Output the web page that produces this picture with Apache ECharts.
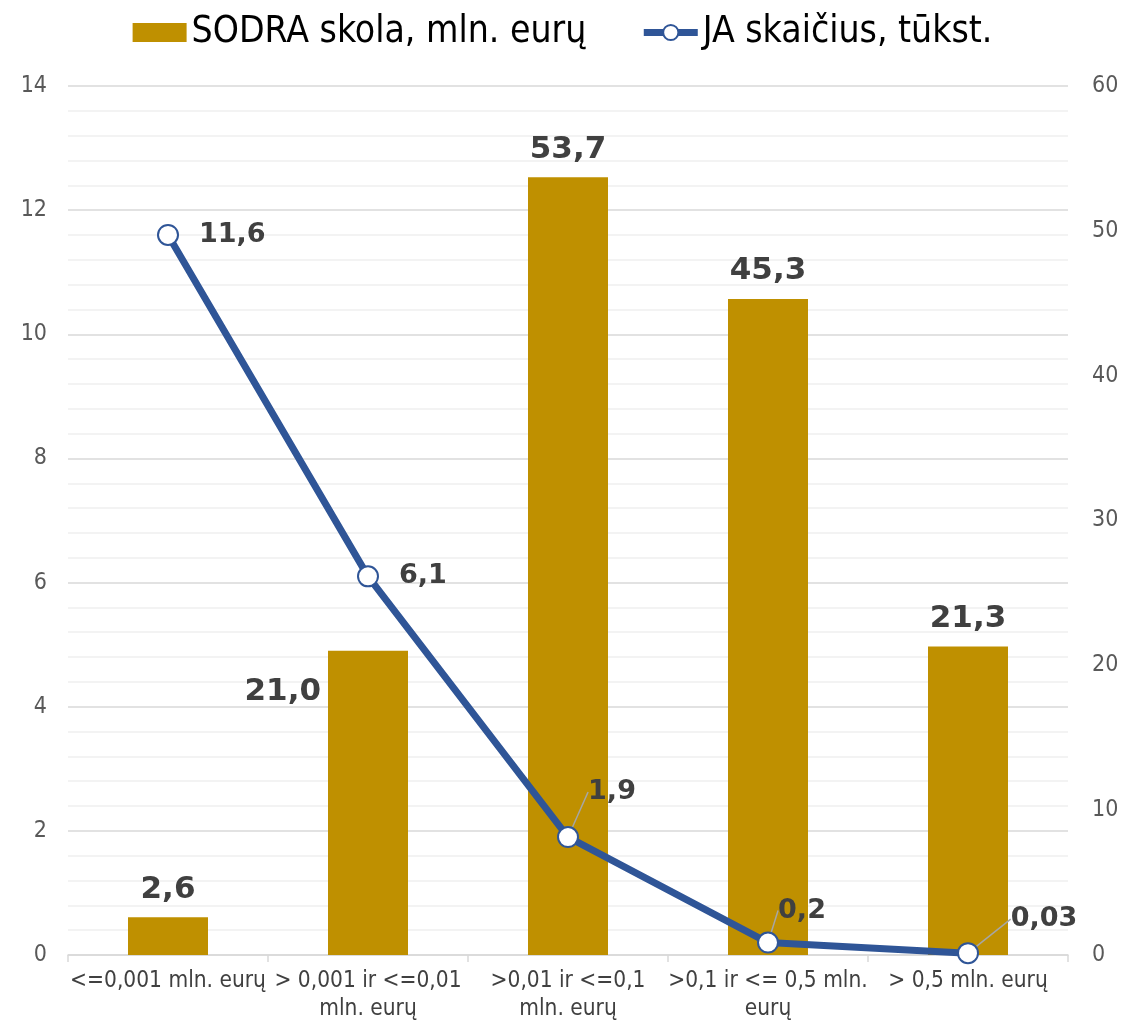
<!DOCTYPE html>
<html><head><meta charset="utf-8">
<script src="https://cdn.jsdelivr.net/npm/echarts@6/dist/echarts.min.js"></script>
<style>html,body{margin:0;padding:0;background:#fff}#c{width:1125px;height:1027px}</style>
</head><body><div id="c"></div>
<script>
const categories = ["<=0,001 mln. eurų", "> 0,001 ir <=0,01\nmln. eurų", ">0,01 ir <=0,1\nmln. eurų", ">0,1 ir <= 0,5 mln.\neurų", "> 0,5 mln. eurų"];
const debtValues = [2.6, 21.0, 53.7, 45.3, 21.3];
const countValues = [11.6, 6.1, 1.9, 0.2, 0.03];
const seriesNames = ["SODRA skola, mln. eurų", "JA skaičius, tūkst."];
const leftTicks = {min: 0, max: 14, interval: 2};
const rightTicks = {min: 0, max: 60, interval: 10};

const fontMain = "DejaVu Sans";
const fontCond = "DejaVu Sans Condensed, DejaVu Sans";
const labelColor = "#404040";
const blue = '#2F5597';

const chart = echarts.init(document.getElementById('c'), null, {renderer: 'canvas'});
const lineOffsets = {2: [44, -45], 3: [34, -32], 4: [76, -34]};

chart.setOption({
  animation: false,
  legend: {
    top: 9, left: 'center', itemGap: 54, itemWidth: 54, itemHeight: 19,
    textStyle: {fontFamily: fontCond, fontSize: 37, color: '#000'},
    data: [
      {name: seriesNames[0], icon: 'rect'},
      {name: seriesNames[1], lineStyle: {width: 7, color: blue}, itemStyle: {color: '#fff', borderColor: blue, borderWidth: 2}}
    ]
  },
  grid: {left: 68, right: 57, top: 86, bottom: 72},
  xAxis: {
    type: 'category', data: categories,
    axisLine: {lineStyle: {color: '#d9d9d9', width: 1.5}},
    axisTick: {show: true, alignWithLabel: false, length: 7, lineStyle: {color: '#d9d9d9', width: 1.5}},
    axisLabel: {fontFamily: fontCond, fontSize: 22.5, color: labelColor, lineHeight: 28, margin: 12, interval: 0}
  },
  yAxis: [
    {
      type: 'value', min: leftTicks.min, max: leftTicks.max, interval: leftTicks.interval, position: 'left',
      axisLine: {show: false}, axisTick: {show: false},
      axisLabel: {fontFamily: fontCond, fontSize: 23, color: '#595959', margin: 21},
      splitLine: {lineStyle: {color: '#d9d9d9', width: 1.5}},
      minorTick: {show: false, splitNumber: 5},
      minorSplitLine: {show: true, lineStyle: {color: '#f0f0f0', width: 1.5}}
    },
    {
      type: 'value', min: rightTicks.min, max: rightTicks.max, interval: rightTicks.interval, position: 'right',
      axisLine: {show: false}, axisTick: {show: false},
      axisLabel: {fontFamily: fontCond, fontSize: 23, color: '#595959', margin: 24},
      splitLine: {show: false}
    }
  ],
  series: [
    {
      name: seriesNames[0], type: 'bar', yAxisIndex: 1, barWidth: '40%',
      itemStyle: {color: '#BF9000'},
      label: {
        show: true, position: 'top', distance: 12,
        fontFamily: fontMain, fontWeight: 'bold', fontSize: 31, color: labelColor,
        formatter: p => p.value.toFixed(1).replace('.', ',')
      },
      data: debtValues.map((v, i) => i === 1 ? {value: v, label: {position: [-7, 41], align: 'right', verticalAlign: 'middle'}} : v),
      z: 2
    },
    {
      name: seriesNames[1], type: 'line', yAxisIndex: 0,
      lineStyle: {color: blue, width: 7},
      itemStyle: {color: '#fff', borderColor: blue, borderWidth: 2},
      symbol: 'circle', symbolSize: 20, showAllSymbol: true,
      label: {
        show: true, position: 'right', distance: 20,
        fontFamily: fontMain, fontWeight: 'bold', fontSize: 27, color: labelColor,
        formatter: p => String(p.value).replace('.', ',')
      },
      labelLine: {show: false, lineStyle: {color: '#a6a6a6', width: 1.5}},
      labelLayout: function (params) {
        const o = lineOffsets[params.dataIndex];
        if (!o) return {};
        const r = params.labelRect;
        return {x: params.rect.x + params.rect.width / 2 + o[0] - r.width / 2, y: params.rect.y + params.rect.height / 2 + o[1] - r.height / 2};
      },
      data: countValues.map((v, i) => lineOffsets[i] ? {value: v, labelLine: {show: true}} : v),
      z: 3
    }
  ]
});
</script></body></html>
